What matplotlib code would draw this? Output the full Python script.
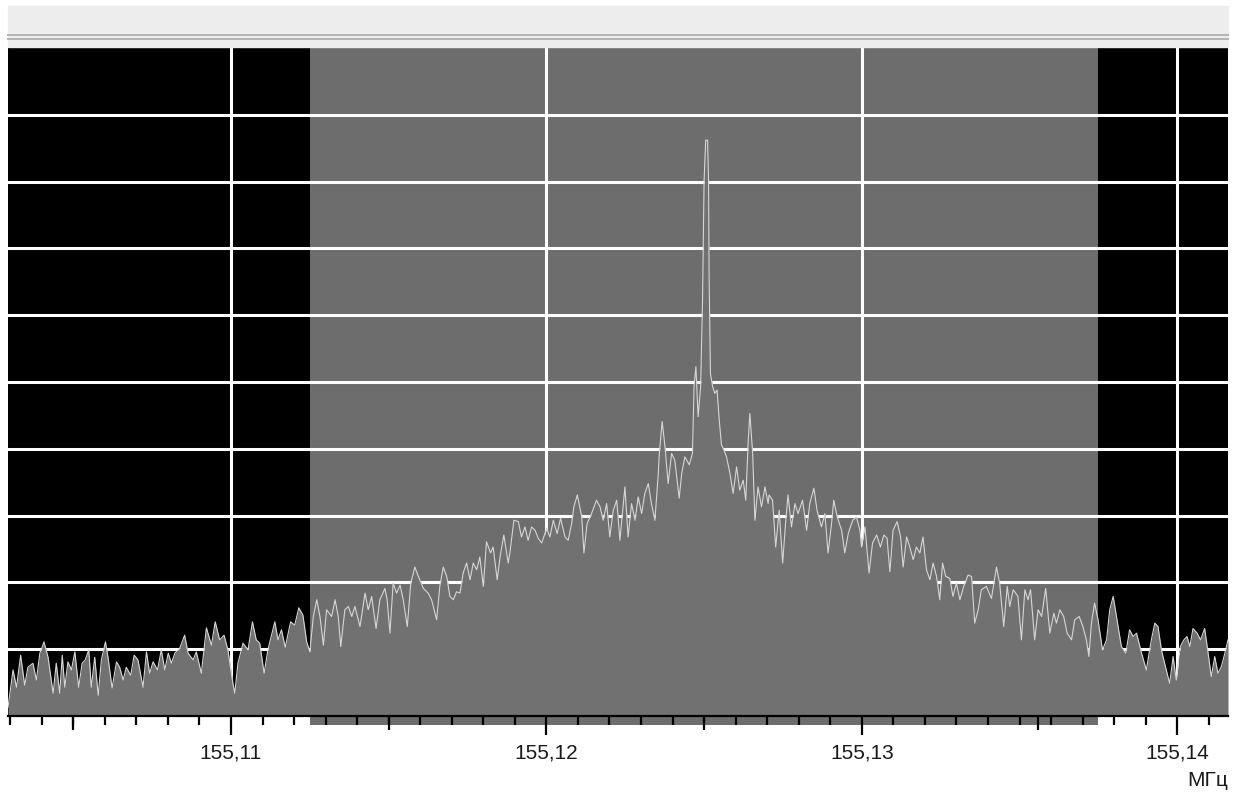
import numpy as np
import matplotlib.pyplot as plt
from matplotlib.patches import Rectangle
from matplotlib.lines import Line2D
from matplotlib.ticker import FixedLocator

plt.rcParams['font.family'] = ['Liberation Sans', 'DejaVu Sans']

# Спектр: частота в кГц выше 155,1 МГц, уровень в дБ (10 дБ/дел, опорный 0 дБ)
# левый край (вне полосы)
freq_khz_1 = [2.93, 3.09, 3.20, 3.33, 3.46, 3.56, 3.72, 3.83, 3.94, 4.07,
              4.20, 4.36, 4.46, 4.57, 4.65, 4.73, 4.83, 4.94, 5.05, 5.17,
              5.28, 5.38, 5.49, 5.57, 5.68, 5.79, 5.89, 6.02, 6.10, 6.23,
              6.37, 6.47, 6.58, 6.68, 6.82, 6.93, 7.05, 7.21, 7.32, 7.42,
              7.53, 7.67, 7.79, 7.90, 8.01, 8.11, 8.22, 8.38, 8.53, 8.64,
              8.80, 8.90, 9.06, 9.22, 9.38, 9.50, 9.64, 9.78, 9.90, 10.06,
              10.12, 10.22, 10.38, 10.54, 10.68, 10.80, 10.91, 11.05, 11.17, 11.39,
              11.49, 11.60, 11.72, 11.89, 12.02, 12.15, 12.28]
level_db_1 = [-98.7, -93.1, -95.7, -90.9, -95.4, -92.7, -92.1, -94.6, -90.6, -88.9,
              -91.2, -96.6, -92.1, -96.6, -90.9, -95.7, -91.9, -93.1, -90.4, -95.7,
              -92.1, -91.6, -90.1, -95.7, -91.2, -96.9, -91.6, -88.9, -91.2, -95.8,
              -91.9, -92.7, -94.6, -92.7, -93.9, -90.9, -91.6, -95.7, -90.4, -93.6,
              -91.9, -93.1, -90.1, -93.1, -90.6, -92.1, -90.6, -89.8, -87.9, -90.6,
              -91.6, -90.4, -93.6, -86.8, -89.4, -85.9, -88.6, -87.9, -90.1, -95.1,
              -96.6, -92.1, -89.1, -90.1, -85.9, -88.6, -89.1, -93.6, -90.1, -85.9,
              -88.6, -87.1, -89.7, -85.9, -86.4, -83.8, -84.9]

# нарастающий склон
freq_khz_2 = [12.40, 12.50, 12.61, 12.72, 12.82, 12.93, 13.03, 13.19, 13.30, 13.40,
              13.48, 13.61, 13.72, 13.83, 13.93, 14.09, 14.25, 14.35, 14.46, 14.60,
              14.72, 14.88, 14.95, 15.04, 15.14, 15.25, 15.36, 15.46, 15.59, 15.70,
              15.83, 15.94, 16.10, 16.25, 16.36, 16.52, 16.62, 16.73, 16.84, 16.94,
              17.05, 17.15, 17.26, 17.36, 17.47, 17.58, 17.68, 17.79, 17.89, 18.00,
              18.10, 18.23, 18.31, 18.44, 18.53, 18.65, 18.79]
level_db_2 = [-88.9, -90.4, -85.1, -82.6, -85.1, -89.4, -84.1, -85.1, -82.6, -85.1,
              -89.6, -84.1, -83.6, -85.1, -83.6, -86.6, -81.6, -84.1, -82.1, -86.9,
              -82.6, -80.9, -82.6, -87.6, -80.1, -81.6, -80.4, -82.6, -86.6, -80.1,
              -77.7, -79.1, -80.9, -81.6, -82.6, -85.6, -80.6, -77.7, -79.1, -82.1,
              -82.6, -81.4, -81.6, -78.6, -77.1, -79.6, -77.1, -78.1, -76.2, -80.6,
              -73.9, -75.6, -74.7, -79.6, -76.2, -72.9, -77.1]

freq_khz_3 = [18.84, 18.97, 19.11, 19.21, 19.32, 19.42, 19.53, 19.64, 19.74, 19.85,
              20.01, 20.11, 20.22, 20.34, 20.45, 20.59, 20.69, 20.80, 20.87, 20.98,
              21.12, 21.19, 21.29, 21.43, 21.59, 21.70, 21.80, 21.91, 22.01, 22.12,
              22.23, 22.33, 22.42, 22.49, 22.59, 22.70, 22.81, 22.91, 23.02, 23.12,
              23.23, 23.33, 23.44, 23.54]
level_db_3 = [-75.6, -70.7, -70.9, -73.2, -71.7, -73.7, -71.7, -72.2, -73.4, -74.1,
              -71.9, -73.2, -70.7, -72.7, -70.4, -73.2, -73.7, -71.2, -68.7, -66.9,
              -70.2, -75.6, -71.2, -69.7, -67.7, -68.7, -70.7, -68.2, -73.2, -69.2,
              -67.7, -73.7, -69.2, -65.7, -73.2, -68.2, -70.7, -67.2, -69.7, -66.7,
              -65.2, -68.2, -70.7, -64.2]

# несущая
freq_khz_4 = [23.58, 23.67, 23.76, 23.86, 23.97, 24.07, 24.21, 24.29, 24.39, 24.53,
              24.63, 24.68, 24.74, 24.81, 24.89, 24.95, 25.00, 25.05, 25.11, 25.14,
              25.16, 25.20, 25.27, 25.34, 25.41, 25.48, 25.55, 25.63, 25.71, 25.82,
              25.92, 26.03, 26.13, 26.24, 26.32, 26.40, 26.45, 26.54, 26.61, 26.71,
              26.82, 26.93, 27.03]
level_db_4 = [-60.7, -55.9, -59.7, -65.2, -60.7, -61.7, -67.4, -63.7, -61.2, -62.4,
              -60.7, -50.7, -47.7, -55.2, -50.7, -37.7, -19.8, -13.8, -13.8, -19.8,
              -34.7, -48.7, -50.7, -51.7, -51.2, -55.7, -59.4, -60.2, -61.2, -63.7,
              -66.7, -62.7, -66.2, -64.7, -67.7, -58.7, -54.7, -60.7, -70.7, -65.7,
              -68.7, -65.7, -68.2]

# спадающий склон
freq_khz_5 = [27.06, 27.17, 27.27, 27.38, 27.49, 27.59, 27.66, 27.77, 27.88, 27.98,
              28.12, 28.25, 28.35, 28.48, 28.58, 28.72, 28.83, 28.93, 29.04, 29.11,
              29.22, 29.36, 29.46, 29.57, 29.71, 29.83, 29.94, 29.99, 30.10, 30.23,
              30.34, 30.47, 30.59, 30.70, 30.80, 30.89, 30.99, 31.12, 31.23, 31.31,
              31.42, 31.52, 31.63, 31.73, 31.84, 31.94, 32.05, 32.16, 32.26, 32.37,
              32.47, 32.56, 32.66, 32.79, 32.89, 33.00, 33.11, 33.23, 33.37, 33.48,
              33.58, 33.69]
level_db_5 = [-66.9, -67.7, -74.7, -69.2, -77.1, -70.7, -66.9, -71.7, -68.2, -69.7,
              -67.7, -72.2, -68.2, -65.9, -69.2, -71.7, -69.7, -75.6, -71.2, -67.7,
              -70.2, -72.2, -75.6, -72.7, -70.7, -70.2, -72.2, -74.7, -71.7, -78.6,
              -74.1, -72.9, -74.7, -72.9, -73.4, -78.4, -72.2, -70.9, -73.2, -77.7,
              -73.2, -74.7, -76.6, -74.7, -75.6, -73.2, -78.1, -79.6, -77.1, -79.1,
              -82.6, -77.1, -79.1, -79.4, -82.1, -80.1, -82.6, -80.6, -78.9, -79.1,
              -86.1, -84.1]

# правый край
freq_khz_6 = [33.79, 33.95, 34.11, 34.27, 34.37, 34.50, 34.61, 34.69, 34.80, 34.95,
              35.06, 35.17, 35.27, 35.35, 35.48, 35.59, 35.70, 35.83, 35.96, 36.09,
              36.17, 36.28, 36.40, 36.51, 36.65, 36.75, 36.89, 37.01, 37.12, 37.20,
              37.28, 37.38, 37.49, 37.63, 37.76, 37.86, 37.97, 38.09, 38.23, 38.37,
              38.49, 38.60, 38.71, 38.87, 39.02, 39.18, 39.29, 39.39, 39.50, 39.60,
              39.76, 39.87, 39.97, 40.10, 40.21, 40.31, 40.40, 40.50, 40.63, 40.74,
              40.87, 40.98, 41.08, 41.19, 41.29, 41.40, 41.51, 41.61]
level_db_6 = [-81.1, -80.6, -82.4, -77.7, -80.1, -86.6, -80.6, -83.6, -81.1, -82.1,
              -88.6, -81.1, -82.6, -81.1, -88.6, -84.1, -85.1, -80.9, -87.6, -84.6,
              -86.1, -84.1, -85.1, -87.6, -88.6, -85.6, -85.1, -86.6, -88.6, -91.1,
              -86.1, -83.1, -85.6, -90.1, -88.6, -84.1, -82.1, -85.6, -89.6, -90.6,
              -87.1, -88.1, -87.6, -90.6, -93.1, -88.6, -86.1, -86.6, -90.1, -92.1,
              -95.1, -91.1, -94.6, -89.6, -88.6, -88.1, -89.6, -86.9, -87.6, -88.6,
              -86.9, -90.6, -94.1, -91.1, -93.6, -92.6, -90.6, -88.6]

freq = 155.1 + np.array(freq_khz_1 + freq_khz_2 + freq_khz_3 +
                        freq_khz_4 + freq_khz_5 + freq_khz_6) / 1000.0
level = np.array(level_db_1 + level_db_2 + level_db_3 +
                 level_db_4 + level_db_5 + level_db_6)

# полоса канала и пределы развертки
band_lo, band_hi = 155.1125, 155.1375
f_min, f_max = 155.10293, 155.14161
ref_level, bottom_level = 0, -100

tick_freqs = [155.11, 155.12, 155.13, 155.14]
tick_labels = ['155,11', '155,12', '155,13', '155,14']
half_ticks = [155.105, 155.115, 155.125, 155.1356]
level_lines = [-90, -80, -70, -60, -50, -40, -30, -20, -10]

W, H = 1233, 796
fig = plt.figure(figsize=(W / 100, H / 100), dpi=100)

# серая полоса сверху (заголовок окна)
fig.patches.append(Rectangle((8 / W, 1 - 47 / H), 1220 / W, 41 / H,
                             transform=fig.transFigure, color='#ededed', zorder=0))
for yy in (35, 38.5):
    fig.add_artist(Line2D([8 / W, 1228 / W], [1 - yy / H, 1 - yy / H],
                          transform=fig.transFigure, color='#b4b4b4', lw=1.4))

ax = fig.add_axes([8 / W, 80 / H, 1220 / W, 668 / H])
ax.set_facecolor('black')
ax.set_axisbelow(True)

ax.axvspan(band_lo, band_hi, ymin=-0.014, ymax=1, color='#6d6d6d',
           lw=0, zorder=0.3, clip_on=False)

ax.fill_between(freq, level, bottom_level, color='#717171', lw=0, zorder=1)
ax.plot(freq, level, color='#d6d6d6', lw=0.8, zorder=2)

ax.set_xlim(f_min, f_max)
ax.set_ylim(bottom_level, ref_level)

ax.set_yticks(level_lines)
ax.tick_params(axis='y', left=False, labelleft=False)

ax.xaxis.set_major_locator(FixedLocator(tick_freqs))
ax.set_xticklabels(tick_labels)
minor = [m for m in np.round(np.arange(155.103, f_max, 0.001), 3)
         if m not in tick_freqs]
ax.xaxis.set_minor_locator(FixedLocator(minor))
ax.tick_params(axis='x', which='major', length=13.7, width=1.6, color='black',
               labelsize=15, pad=6, labelcolor='#1a1a1a')
ax.tick_params(axis='x', which='minor', length=6.5, width=1.6, color='black')

# средние риски
ax.vlines(half_ticks, -14 / 668, 0, transform=ax.get_xaxis_transform(),
          colors='black', lw=1.6, clip_on=False, zorder=3)

ax.grid(True, color='white', lw=2.2)

for side in ('left', 'right', 'top'):
    ax.spines[side].set_visible(False)
ax.spines['bottom'].set_color('black')
ax.spines['bottom'].set_linewidth(1.6)

fig.text(1228 / W, 1 - 780 / H, 'МГц', ha='right', va='center',
         fontsize=15, color='#1a1a1a')

fig.savefig('out.png', dpi=100)
